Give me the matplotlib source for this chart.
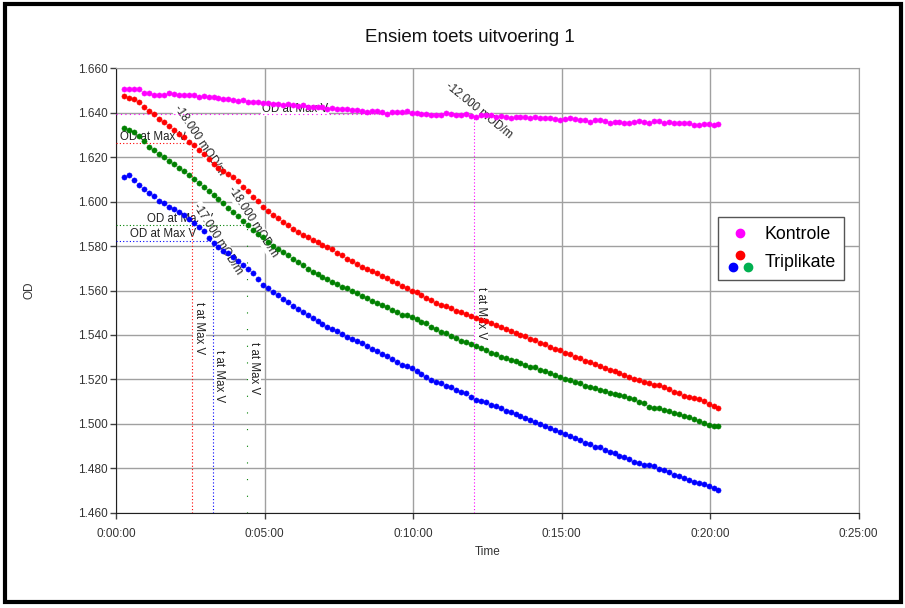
import numpy as np
import matplotlib.pyplot as plt
from matplotlib.lines import Line2D
from matplotlib.legend_handler import HandlerBase
from matplotlib.patches import Rectangle
from matplotlib.ticker import FuncFormatter, MultipleLocator

plt.rcParams['font.family'] = ['Liberation Sans', 'DejaVu Sans']

# Metings: elke 10 s, eerste meting by 0:00:17 (OD in mOD)
t_begin = 17  # s
t_stap = 10   # s

kontrole = [
    1650.8, 1650.7, 1650.8, 1650.6, 1648.9, 1648.8, 1648.1, 1648.1, 1648.2, 1648.8,
    1648.4, 1647.9, 1648.0, 1647.9, 1647.8, 1647.2, 1647.6, 1646.9, 1646.9, 1646.5,
    1646.1, 1646.2, 1645.8, 1645.5, 1645.6, 1645.0, 1644.9, 1645.0, 1644.5, 1644.6,
    1643.9, 1644.1, 1643.7, 1643.8, 1643.3, 1643.2, 1643.3, 1642.7, 1642.8, 1642.5,
    1642.7, 1641.9, 1642.1, 1641.8, 1641.6, 1641.7, 1641.1, 1641.2, 1640.9, 1640.5,
    1640.9, 1640.6, 1640.3, 1639.6, 1640.2, 1640.4, 1640.5, 1640.6, 1640.0, 1639.9,
    1639.4, 1639.3, 1638.8, 1639.0, 1638.9, 1639.9, 1639.3, 1639.2, 1638.8, 1639.4,
    1638.6, 1638.1, 1639.2, 1638.9, 1638.8, 1638.3, 1638.4, 1638.1, 1637.5, 1638.1,
    1638.0, 1638.0, 1637.8, 1637.9, 1637.7, 1637.8, 1637.5, 1637.4, 1636.7, 1637.3,
    1637.6, 1637.1, 1636.9, 1636.6, 1635.9, 1636.6, 1636.7, 1636.2, 1635.4, 1635.9,
    1636.0, 1635.6, 1635.4, 1635.9, 1636.5, 1635.8, 1635.3, 1636.3, 1636.4, 1635.6,
    1635.7, 1635.6, 1635.5, 1635.3, 1635.4, 1634.4, 1634.6, 1635.0, 1634.8, 1634.5,
    1634.9]

rooi = [
    1647.7, 1646.8, 1646.0, 1644.7, 1642.6, 1640.9, 1639.4, 1637.4, 1635.9, 1634.0,
    1632.3, 1630.6, 1628.9, 1627.0, 1625.5, 1623.2, 1621.4, 1619.4, 1617.0, 1615.3,
    1613.8, 1612.6, 1610.9, 1609.1, 1606.5, 1604.6, 1602.0, 1600.1, 1597.8, 1596.0,
    1594.2, 1592.6, 1590.9, 1589.5, 1587.8, 1586.5, 1585.2, 1584.3, 1582.9, 1581.8,
    1580.6, 1579.7, 1578.5, 1577.1, 1575.9, 1574.4, 1573.3, 1571.9, 1570.7, 1569.8,
    1568.6, 1567.8, 1566.5, 1565.7, 1564.4, 1563.5, 1562.1, 1561.3, 1560.0, 1559.2,
    1558.0, 1556.7, 1555.8, 1554.4, 1553.5, 1552.9, 1552.0, 1551.0, 1550.3, 1549.4,
    1548.5, 1547.8, 1546.8, 1546.1, 1545.3, 1544.4, 1543.7, 1542.6, 1541.8, 1541.1,
    1540.0, 1539.4, 1538.3, 1537.6, 1536.5, 1535.9, 1534.6, 1533.8, 1533.1, 1532.0,
    1531.3, 1530.2, 1529.6, 1528.5, 1527.9, 1526.8, 1526.0, 1525.2, 1524.3, 1523.6,
    1522.7, 1522.2, 1521.0, 1520.3, 1519.8, 1519.0, 1518.3, 1517.5, 1517.6, 1516.4,
    1515.6, 1514.5, 1513.8, 1512.7, 1511.9, 1511.8, 1511.0, 1510.1, 1508.9, 1508.0,
    1507.0]

blou = [
    1610.9, 1612.0, 1609.6, 1607.5, 1605.6, 1603.7, 1602.6, 1600.4, 1599.3, 1597.6,
    1596.6, 1595.3, 1594.0, 1592.1, 1590.6, 1588.7, 1586.6, 1583.5, 1581.2, 1579.8,
    1578.0, 1576.8, 1575.2, 1573.5, 1571.4, 1569.6, 1567.7, 1565.3, 1562.5, 1561.0,
    1559.3, 1558.0, 1556.4, 1555.0, 1553.2, 1551.8, 1550.4, 1549.1, 1547.6, 1546.3,
    1544.9, 1543.6, 1542.5, 1541.6, 1540.3, 1539.3, 1538.2, 1537.5, 1536.2, 1535.0,
    1533.6, 1532.9, 1531.4, 1530.5, 1529.1, 1527.9, 1526.5, 1526.0, 1525.0, 1523.6,
    1522.4, 1521.3, 1519.9, 1519.0, 1518.3, 1517.1, 1516.5, 1515.3, 1514.4, 1513.7,
    1512.3, 1510.9, 1510.3, 1509.8, 1508.6, 1507.9, 1507.0, 1506.0, 1505.2, 1504.3,
    1503.6, 1502.6, 1501.7, 1500.7, 1500.1, 1499.2, 1498.3, 1497.3, 1496.5, 1495.4,
    1494.7, 1493.5, 1492.9, 1491.6, 1490.9, 1489.7, 1489.6, 1488.4, 1487.5, 1486.7,
    1485.6, 1484.9, 1484.0, 1483.0, 1482.4, 1481.6, 1481.4, 1480.9, 1479.9, 1479.1,
    1478.3, 1477.2, 1476.4, 1475.5, 1474.6, 1473.9, 1473.4, 1472.9, 1472.0, 1471.1,
    1470.2]

groen = [
    1633.0, 1632.4, 1631.5, 1629.6, 1627.1, 1624.7, 1623.3, 1621.5, 1620.2, 1618.5,
    1616.9, 1615.0, 1613.6, 1612.0, 1610.1, 1608.4, 1606.5, 1604.6, 1603.2, 1601.0,
    1599.3, 1597.0, 1595.2, 1593.4, 1591.5, 1589.5, 1587.4, 1585.5, 1583.9, 1581.8,
    1580.2, 1578.6, 1577.3, 1576.0, 1574.4, 1572.9, 1571.3, 1569.9, 1568.5, 1567.5,
    1566.1, 1565.2, 1563.8, 1562.9, 1561.7, 1561.0, 1559.6, 1558.8, 1557.5, 1556.6,
    1555.1, 1554.6, 1553.4, 1552.5, 1551.1, 1550.4, 1549.0, 1548.9, 1548.2, 1547.1,
    1546.0, 1545.2, 1543.8, 1542.9, 1541.5, 1540.7, 1539.6, 1538.8, 1537.4, 1536.9,
    1535.8, 1535.2, 1534.0, 1533.2, 1532.1, 1531.3, 1530.2, 1529.8, 1528.9, 1528.3,
    1527.4, 1526.6, 1525.8, 1525.5, 1524.4, 1523.9, 1522.7, 1522.2, 1521.3, 1520.4,
    1519.8, 1518.8, 1518.2, 1516.9, 1516.5, 1516.2, 1515.3, 1514.9, 1514.0, 1513.6,
    1513.0, 1512.6, 1511.6, 1511.1, 1510.0, 1509.2, 1507.4, 1507.2, 1507.1, 1506.2,
    1505.6, 1504.9, 1504.6, 1503.6, 1503.0, 1502.0, 1501.2, 1500.6, 1499.4, 1499.0,
    1499.2]

# "Max V" punte: tyd (s), OD, tempo
reekse = ['kontrole', 'rooi', 'blou', 'groen']
t_max_v = [724, 153, 196, 265]
od_max_v = [1.6393, 1.6262, 1.5823, 1.5895]
tempo = ['-12.000 mOD/m', '-18.000 mOD/m', '-17.000 mOD/m', '-18.000 mOD/m']

kleure = ['#ff00ff', '#ff0000', '#0000ff', '#008000']
data = [kontrole, rooi, blou, groen]

tyd = t_begin + t_stap * np.arange(len(kontrole))

fig = plt.figure(figsize=(9.05, 6.08), dpi=100)
ax = fig.add_axes([0.1282, 0.1567, 0.8205, 0.7310])

lyne = []
for vals, c in zip(data, kleure):
    ln, = ax.plot(tyd, np.array(vals) / 1000, 'o', ms=3.7, color=c, mec=c,
                  mew=0.4, lw=0, zorder=5)
    lyne.append(ln)

# stippellyne na die max V punte
stippel_h = [(0, (1, 3)), (0, (1, 2)), (0, (1, 2)), (0, (1, 2))]
stippel_v = [(0, (1, 2)), (0, (1, 2)), (0, (1, 2)), (0, (1, 14))]
for tt, od, c, lsh, lsv in zip(t_max_v, od_max_v, kleure, stippel_h, stippel_v):
    ax.plot([0, tt], [od, od], color=c, lw=0.8, ls=lsh, zorder=4)
    ax.plot([tt, tt], [1.46, od], color=c, lw=0.8, ls=lsv, zorder=4)

txt_kw = dict(fontsize=8.3, color='#222222', zorder=3,
              bbox=dict(fc='white', ec='none', pad=0.5))

# "OD at Max V" etikette
od_pos = [(295, 1.6415), (8, 1.6289), (28, 1.5854), (63, 1.5922)]
for (x, y) in od_pos:
    ax.text(x, y, 'OD at Max V', ha='left', va='center', **txt_kw)

# "t at Max V" etikette
t_pos = [(737, 1.5499), (168.5, 1.5432), (209, 1.5215), (278.7, 1.5251)]
for (x, y) in t_pos:
    ax.text(x, y, 't at Max V', ha='center', va='center', rotation=-90,
            **txt_kw)

# tempo etikette
r_pos = [(733, 1.6412, -39), (167.6, 1.6277, -56), (206, 1.5832, -57.5),
         (276.7, 1.5908, -57)]
for (x, y, rot), s in zip(r_pos, tempo):
    ax.text(x, y, s, ha='center', va='center', rotation=rot,
            rotation_mode='anchor', **txt_kw)

ax.set_xlim(0, 1500)
ax.set_ylim(1.46, 1.66)
ax.xaxis.set_major_locator(MultipleLocator(300))
ax.yaxis.set_major_locator(MultipleLocator(0.02))
ax.xaxis.set_major_formatter(FuncFormatter(
    lambda s, p: '%d:%02d:%02d' % (s // 3600, s % 3600 // 60, s % 60)))
ax.yaxis.set_major_formatter(FuncFormatter(lambda v, p: '%.3f' % v))

ax.grid(True, color='#a0a0a0', lw=1)
ax.set_axisbelow(True)
for sp in ['top', 'right']:
    ax.spines[sp].set_color('#a0a0a0')
for sp in ['left', 'bottom']:
    ax.spines[sp].set_color('#202020')
ax.tick_params(axis='both', direction='out', length=4.3, width=1,
               color='#404040', labelsize=8.5, labelcolor='#333333')
ax.tick_params(axis='y', pad=1.5)
ax.tick_params(axis='x', pad=7)

ax.set_xlabel('Time', fontsize=8.5, color='#333333')
ax.set_ylabel('OD', fontsize=8.5, color='#333333')
ax.xaxis.set_label_coords(0.5, -0.075)
ax.yaxis.set_label_coords(-0.109, 0.5)

fig.text(470 / 905, 1 - 37 / 608, 'Ensiem toets uitvoering 1', ha='center',
         va='center', fontsize=13.5, color='#111111')


class DrieKolle(HandlerBase):
    def create_artists(self, legend, orig_handle, xdescent, ydescent, width,
                       height, fontsize, trans):
        cx = width / 2 - xdescent
        cy = height / 2 - ydescent
        offs = [(0, 4.5), (-5.2, -4.0), (5.6, -4.4)]
        cols = ['#ff0000', '#0000ff', '#00b050']
        arts = []
        for (dx, dy), c in zip(offs, cols):
            arts.append(Line2D([cx + dx], [cy + dy], marker='o', ls='none',
                               ms=6, color=c, mec=c, transform=trans))
        return arts


k_proxy = Line2D([], [], marker='o', ls='none', ms=6, color='#ff00ff',
                 mec='#ff00ff')
leg = ax.legend([k_proxy, tuple(lyne[1:])], ['Kontrole', 'Triplikate'],
                handler_map={tuple: DrieKolle()}, loc='upper left',
                bbox_to_anchor=(0.8107, 0.6654), borderaxespad=0,
                fontsize=12.8, frameon=True, fancybox=False, framealpha=1,
                edgecolor='#555555', borderpad=0.5, labelspacing=0.65,
                handlelength=1.5, handletextpad=0.6, numpoints=1)
leg.get_frame().set_linewidth(1.0)
leg.set_zorder(10)

# swart raam om die hele prent
fig.patches.append(Rectangle((5 / 905, 1 - 602 / 608), 896 / 905, 598 / 608,
                             transform=fig.transFigure, fill=False,
                             ec='black', lw=3))

fig.savefig('out.png', dpi=100)
